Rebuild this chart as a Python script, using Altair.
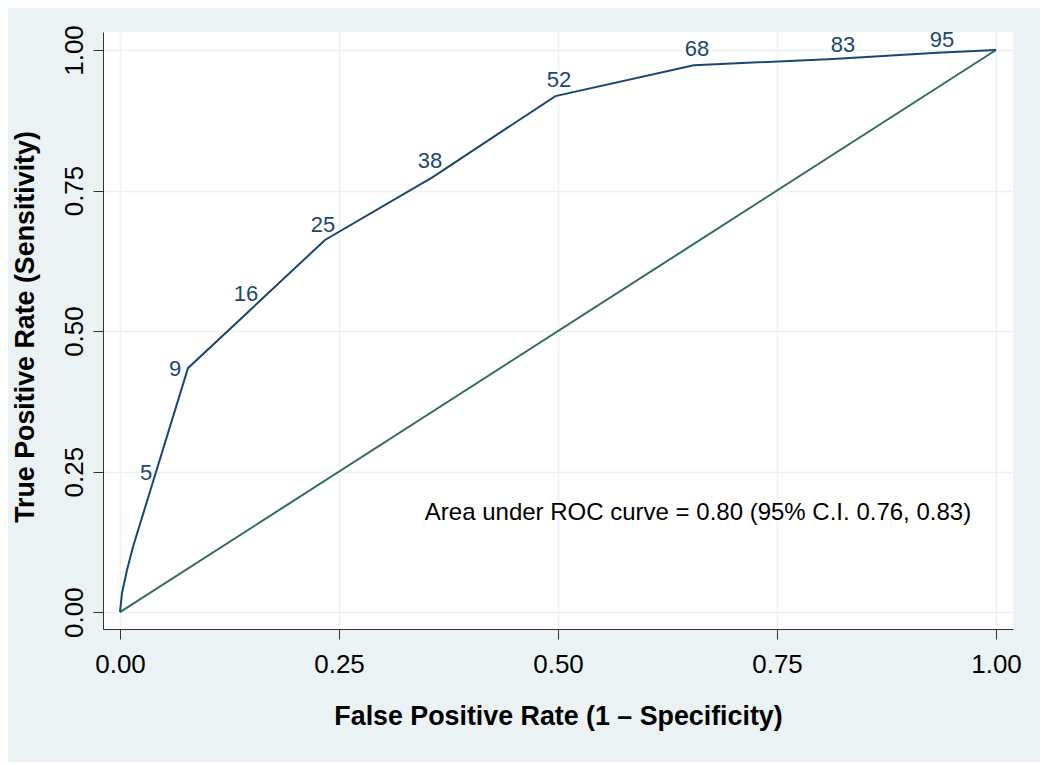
import altair as alt
import pandas as pd

# ROC curve vertices
fpr = [0.0, 0.0023, 0.008, 0.0148, 0.0776, 0.234, 0.357, 0.497, 0.655, 0.814, 0.933, 1.0]
tpr = [0.0, 0.034, 0.075, 0.116, 0.434, 0.662, 0.774, 0.918, 0.973, 0.984, 0.995, 1.0]

# reference (chance) line
ref_x = [0.0, 1.0]
ref_y = [0.0, 1.0]

# cut-off labels along the curve
cut_labels = ["5", "9", "16", "25", "38", "52", "68", "83", "95"]
label_x = [0.0297, 0.0628, 0.1438, 0.2317, 0.3539, 0.5011, 0.6587, 0.8253, 0.9384]
label_y = [0.247, 0.432, 0.566, 0.689, 0.802, 0.947, 1.002, 1.009, 1.018]

auc_text = ["Area under ROC curve = 0.80 (95% C.I. 0.76, 0.83)"]
auc_x = [0.348]
auc_y = [0.164]

tick_values = [0.0, 0.25, 0.5, 0.75, 1.0]

NAVY = "#1A476F"
GREEN = "#2C6E63"
BG = "#EAF2F3"
FONT = "Liberation Sans"

# tick labels carry a small trailing gap (as in the original) so they sit slightly off-centre
LABEL_EXPR = "format(datum.value, '.2f') + '\u00a0\u2009'"

curve_df = pd.DataFrame({"fpr": fpr, "tpr": tpr, "i": list(range(len(fpr)))})
ref_df = pd.DataFrame({"fpr": ref_x, "tpr": ref_y, "i": [0, 1]})
lab_df = pd.DataFrame({"fpr": label_x, "tpr": label_y, "lab": cut_labels})
auc_df = pd.DataFrame({"fpr": auc_x, "tpr": auc_y, "lab": auc_text})

xscale = alt.Scale(domain=[-0.0194, 1.0194], nice=False, zero=False)
yscale = alt.Scale(domain=[-0.030, 1.032], nice=False, zero=False)

xaxis = alt.Axis(
    values=tick_values, labelExpr=LABEL_EXPR, grid=True, gridColor=BG, gridWidth=1.5,
    domainColor="#333333", domainWidth=1, tickColor="#333333", tickWidth=1, tickSize=10,
    labelFontSize=26, labelColor="black", labelPadding=12, labelFlush=False, labelOverlap=False,
    title="False Positive Rate (1 – Specificity)", titleFontSize=26.8, titleFontWeight="bold",
    titleColor="black", titleY=95, titleBaseline="alphabetic",
)
yaxis = alt.Axis(
    values=tick_values, labelExpr=LABEL_EXPR, grid=True, gridColor=BG, gridWidth=1.5,
    domainColor="#333333", domainWidth=1, tickColor="#333333", tickWidth=1, tickSize=10,
    labelFontSize=26, labelColor="black", labelPadding=11, labelFlush=False, labelOverlap=False,
    labelAngle=-90, labelAlign="center", labelBaseline="alphabetic",
    title="True Positive Rate (Sensitivity)", titleFontSize=26.8, titleFontWeight="bold",
    titleColor="black", titleAngle=-90, titleAlign="center", titleBaseline="alphabetic",
    titleX=-70, titleY=294.5,
)

base_x = alt.X("fpr:Q", scale=xscale, axis=xaxis)
base_y = alt.Y("tpr:Q", scale=yscale, axis=yaxis)

ref = alt.Chart(ref_df).mark_line(color=GREEN, strokeWidth=2).encode(
    x=base_x, y=base_y, order="i:Q"
)
curve = alt.Chart(curve_df).mark_line(color=NAVY, strokeWidth=2).encode(
    x=alt.X("fpr:Q", scale=xscale), y=alt.Y("tpr:Q", scale=yscale), order="i:Q"
)
labels = alt.Chart(lab_df).mark_text(
    color=NAVY, fontSize=22, font=FONT, align="center", baseline="middle"
).encode(x=alt.X("fpr:Q", scale=xscale), y=alt.Y("tpr:Q", scale=yscale), text="lab:N")
auc = alt.Chart(auc_df).mark_text(
    color="black", fontSize=24, font=FONT, align="left", baseline="alphabetic"
).encode(x=alt.X("fpr:Q", scale=xscale), y=alt.Y("tpr:Q", scale=yscale), text="lab:N")

chart = (
    alt.layer(ref, curve, labels, auc)
    .properties(
        width=910, height=597,
        autosize="none",
        padding={"left": 95, "top": 24, "right": 27, "bottom": 133},
        background=BG,
    )
    .configure(font=FONT)
    .configure_view(fill="white", stroke=None)
)

chart.save("out.html", embed_options={"renderer": "svg", "actions": False})
